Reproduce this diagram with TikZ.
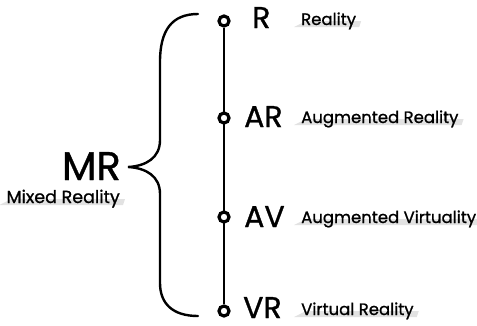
\documentclass[tikz,border=0pt]{standalone}
\usepackage{fontspec}
\setmainfont{Poppins}[FakeBold=1]
\usetikzlibrary{positioning, backgrounds, calc}
\definecolor{barfill}{RGB}{226,226,226}
\tikzset{
  dot/.style={circle,draw,fill=white,line width=3.2pt,minimum size=10pt,inner sep=0pt},
  biglbl/.style={anchor=base west,inner sep=0pt,font=\fontsize{30}{32}\selectfont},
  smalllbl/.style={anchor=base west,inner sep=0pt,font=\fontsize{16.5}{18}\selectfont},
  rail/.style={line width=2.4pt},
  bracket/.style={line width=2.4pt,line cap=round},
  bar/.style={fill=barfill}
}
% light highlighter stroke under a label
\newcommand{\hibar}[1]{%
  \fill[bar] ($(#1.base west)+(-7,2)$) -- ($(#1.base west)+(5,-4)$)
    -- ($(#1.base east)+(5,-4)$) -- ($(#1.base east)+(3,2)$) -- cycle;}

\begin{document}
\begin{tikzpicture}[x=1pt,y=-1pt]
  \useasboundingbox (0,0) rectangle (477,325);

  % points on the continuum
  \node[dot] (pR)  at (224,21)  {};
  \node[dot] (pAR) at (224,118) {};
  \node[dot] (pAV) at (224,217) {};
  \node[dot] (pVR) at (224,311) {};

  \node[biglbl] (lR)  at (252,28)  {R};
  \node[biglbl] (lAR) at (244,127) {AR};
  \node[biglbl] (lAV) at (244,227) {AV};
  \node[biglbl] (lVR) at (243,318) {VR};

  \node[smalllbl] (tR)  at (301,25)  {Reality};
  \node[smalllbl] (tAR) at (301,123) {Augmented Reality};
  \node[smalllbl] (tAV) at (301,223) {Augmented Virtuality};
  \node[smalllbl] (tVR) at (301,315) {Virtual Reality};

  % mixed reality group
  \node[anchor=base east,inner sep=0pt,font=\fontsize{40}{42}\selectfont] (lMR) at (121,180) {MR};
  \node[smalllbl,anchor=base east,font=\fontsize{17.5}{19}\selectfont] (tMR) at (120,203) {Mixed Reality};

  \begin{pgfonlayer}{background}
    \draw[rail] (pR) -- (pVR);
    \hibar{tR}
    \hibar{tAR}
    \hibar{tAV}
    \hibar{tVR}
    \hibar{tMR}
  \end{pgfonlayer}

  % curly brace
  \coordinate (bTop) at (198,14);
  \coordinate (bTip) at (128,167);
  \coordinate (bBot) at (198,316);
  \draw[bracket] (bTop) .. controls (172,14) and (160,30) .. (160,62)
    -- (160,140) .. controls (160,158) and (146,166) .. (bTip)
    .. controls (146,168) and (160,176) .. (160,194)
    -- (160,283) .. controls (160,303) and (172,316) .. (bBot);
\end{tikzpicture}
\end{document}
